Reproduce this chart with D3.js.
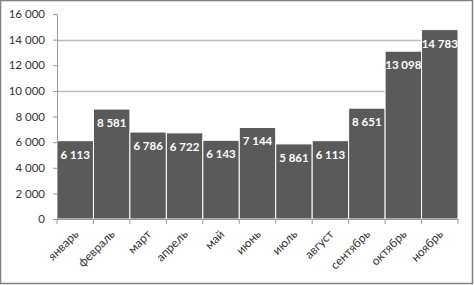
<!DOCTYPE html>
<html>
<head>
<meta charset="utf-8">
<script src="https://cdn.jsdelivr.net/npm/d3@7"></script>
<style>
  body { margin: 0; background: #fff; }
  text { font-family: Lato, "Open Sans", sans-serif; }
</style>
</head>
<body>
<div id="chart"></div>
<script>
const months = ["январь", "февраль", "март", "апрель", "май", "июнь", "июль", "август", "сентябрь", "октябрь", "ноябрь"];
const values = [6113, 8581, 6786, 6722, 6143, 7144, 5861, 6113, 8651, 13098, 14783];
const yTicks = [0, 2000, 4000, 6000, 8000, 10000, 12000, 14000, 16000];
const gridTicks = [10000, 14000];

const width = 474, height = 285;
const margin = { top: 14, right: 16, bottom: 66, left: 57 };

const svg = d3.select("#chart").append("svg")
    .attr("width", width)
    .attr("height", height);

// рамка
svg.append("rect")
    .attr("x", 0.5).attr("y", 0.5)
    .attr("width", width - 2).attr("height", height - 2)
    .attr("fill", "#fff")
    .attr("stroke", "#808080")
    .attr("stroke-width", 1.5);

const x = d3.scaleBand()
    .domain(months)
    .range([margin.left, width - margin.right])
    .padding(0);

const y = d3.scaleLinear()
    .domain([0, 16000])
    .range([height - margin.bottom, margin.top]);

const fmt = v => d3.format(",")(v).replace(/,/g, " ");

// сетка
svg.append("g")
    .selectAll("line")
    .data(gridTicks)
    .enter()
    .append("line")
    .attr("x1", margin.left)
    .attr("x2", width - margin.right)
    .attr("y1", d => Math.round(y(d)) + 0.5)
    .attr("y2", d => Math.round(y(d)) + 0.5)
    .attr("stroke", "#bdbdbd")
    .attr("stroke-width", 1.5);

// столбцы
svg.append("g")
    .selectAll("rect")
    .data(values)
    .enter()
    .append("rect")
    .attr("x", (d, i) => x(months[i]))
    .attr("y", d => y(d))
    .attr("width", x.bandwidth())
    .attr("height", d => y(0) - y(d))
    .attr("fill", "#5a5a5a")
    .attr("stroke", "#fff")
    .attr("stroke-width", 1);

// подписи значений
svg.append("g")
    .selectAll("text")
    .data(values)
    .enter()
    .append("text")
    .attr("x", (d, i) => x(months[i]) + x.bandwidth() / 2)
    .attr("y", d => y(d) + 18)
    .attr("text-anchor", "middle")
    .attr("fill", "#fff")
    .style("font-size", "11.5px")
    .style("font-weight", "bold")
    .text(d => fmt(d));

// ось Y
const yAxis = svg.append("g")
    .attr("transform", `translate(${margin.left},0)`)
    .call(d3.axisLeft(y).tickValues(yTicks).tickSize(4).tickPadding(8).tickFormat(fmt));
yAxis.select(".domain").attr("stroke", "#9a9a9a");
yAxis.selectAll(".tick line").attr("stroke", "#9a9a9a");
yAxis.selectAll("text").attr("fill", "#333").style("font-size", "11.5px");

// ось X
const xAxis = svg.append("g")
    .attr("transform", `translate(0,${y(0)})`)
    .call(d3.axisBottom(x).tickSize(0).tickSizeOuter(0));
xAxis.select(".domain").attr("stroke", "#9a9a9a");
xAxis.selectAll(".tick text")
    .attr("fill", "#333")
    .style("font-size", "12px")
    .attr("text-anchor", "end")
    .attr("y", 0)
    .attr("dy", 0)
    .attr("transform", "translate(4,16) rotate(-45)");

// засечки между категориями
svg.append("g")
    .selectAll("line")
    .data(months.concat(["end"]))
    .enter()
    .append("line")
    .attr("x1", (d, i) => i < months.length ? x(d) : x(months[months.length - 1]) + x.bandwidth())
    .attr("x2", (d, i) => i < months.length ? x(d) : x(months[months.length - 1]) + x.bandwidth())
    .attr("y1", y(0))
    .attr("y2", y(0) + 5)
    .attr("stroke", "#9a9a9a");
</script>
</body>
</html>
